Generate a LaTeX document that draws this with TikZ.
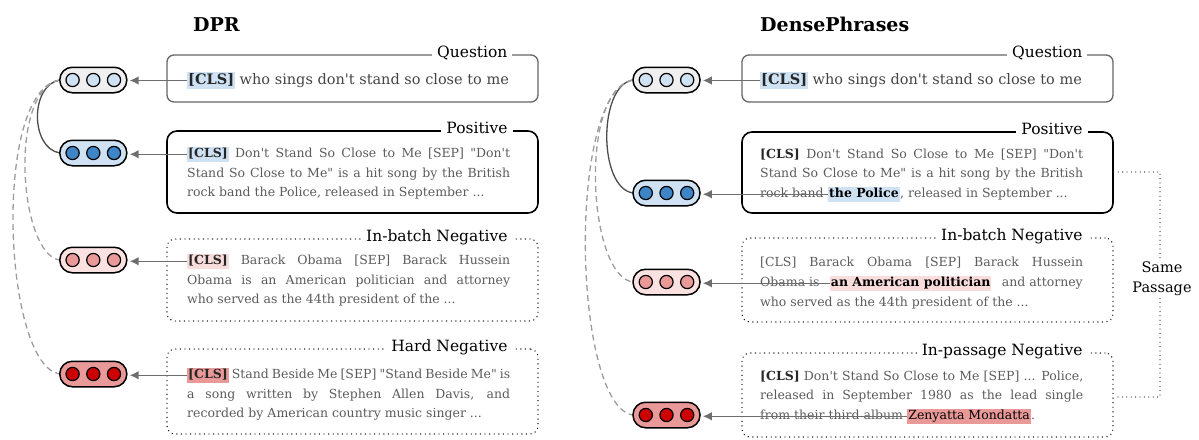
\documentclass[tikz,border=0pt]{standalone}
\usepackage{fontspec}
\setmainfont{DejaVu Serif}[Ligatures=TeXOff]
\usetikzlibrary{positioning,calc,arrows.meta}

\definecolor{qgray}{HTML}{EFEFEF}
\definecolor{lblue}{HTML}{CFE2F3}
\definecolor{dblue}{HTML}{3D85C6}
\definecolor{lpink}{HTML}{FCE1E1}
\definecolor{hpink}{HTML}{F9DCDC}
\definecolor{mred}{HTML}{EA9999}
\definecolor{dred}{HTML}{CC0000}
\definecolor{txtgray}{HTML}{5B5B5B}
\definecolor{qtxt}{HTML}{444444}
\definecolor{arrgray}{HTML}{6E6E6E}
\definecolor{dashgray}{HTML}{9C9C9C}

\newlength{\linew}
\setlength{\linew}{323pt}
\setlength{\fboxsep}{1pt}
\newcommand{\hstrut}{\rule[-3pt]{0pt}{12pt}}
\newcommand{\hlbox}[2]{\colorbox{#1}{\hstrut #2}}
\newcommand{\cls}[1]{\hlbox{#1}{\bfseries\color{black!85}[CLS]}}
\newcommand{\jline}[1]{\makebox[\linew][s]{#1}}

% capsule with three dots
\newcommand{\embed}[4]{%
  \node[capsule, fill=#3] (#1) at #2 {};
  \foreach \dx in {-20.7,0,20.7}
    \draw [black, line width=1.2pt, fill=#4] ([xshift=\dx pt]#1.center) circle (6.6pt);
}

\begin{document}
\begin{tikzpicture}[x=1pt,y=1pt,
  capsule/.style={draw=black, line width=1.5pt, rounded corners=12.5pt, minimum width=67pt, minimum height=25.5pt, inner sep=0pt},
  txt/.style={anchor=base west, inner sep=0pt, text=txtgray, font=\fontsize{12.5}{14}\selectfont},
  qtext/.style={anchor=base west, inner sep=0pt, text=qtxt, font=\fontsize{14.5}{16}\selectfont},
  lbl/.style={anchor=base east, fill=white, inner xsep=5pt, inner ysep=1pt, font=\fontsize{15.5}{18}\selectfont},
  title/.style={anchor=base west, inner sep=0pt, font=\fontsize{19}{22}\selectfont\bfseries},
  qframe/.style={draw=black!60, line width=1.3pt, rounded corners=7pt, inner sep=0pt},
  pframe/.style={draw=black, line width=1.6pt, rounded corners=10pt, inner sep=0pt},
  nframe/.style={draw=black, line width=1.4pt, line cap=round, dash pattern=on 0pt off 4.6pt, rounded corners=8pt, inner sep=0pt},
  arr/.style={draw=arrgray, line width=1.5pt, -{Latex[length=9pt,width=8.5pt]}, shorten >=2pt},
  link/.style={draw=black!70, line width=1.3pt},
  neg/.style={draw=dashgray, line width=1.3pt, dash pattern=on 6pt off 4pt},
  dots/.style={draw=black!80, line width=1.3pt, line cap=round, dash pattern=on 0pt off 4.4pt}]
\useasboundingbox (0,0) rectangle (1199,-439);

% titles
\node[title] (dprT) at (193,-31) {DPR};
\node[title] (dpT) at (760,-31) {DensePhrases};

% DPR frames
\node[qframe, minimum width=371pt, minimum height=47pt] (dprQ) at (352.5,-78.5) {};
\node[pframe, minimum width=371pt, minimum height=82pt] (dprP) at (352.5,-172) {};
\node[nframe, minimum width=371pt, minimum height=82pt] (dprN) at (352.5,-280) {};
\node[nframe, minimum width=371pt, minimum height=85pt] (dprH) at (352.5,-391.5) {};
\node[lbl] at ([xshift=-26pt,yshift=-3.5pt]dprQ.north east) {Question};
\node[lbl] at ([xshift=-26pt,yshift=-3.5pt]dprP.north east) {Positive};
\node[lbl] at ([xshift=-26pt,yshift=-3.5pt]dprN.north east) {In-batch Negative};
\node[lbl] at ([xshift=-26pt,yshift=-3.5pt]dprH.north east) {Hard Negative};

% DensePhrases frames
\node[qframe, minimum width=371pt, minimum height=47pt] (dpQ) at (927.5,-78.5) {};
\node[pframe, minimum width=371pt, minimum height=81pt] (dpP) at (927.5,-172.5) {};
\node[nframe, minimum width=371pt, minimum height=84pt] (dpN) at (927.5,-280) {};
\node[nframe, minimum width=371pt, minimum height=84pt] (dpS) at (927.5,-395) {};
\node[lbl] at ([xshift=-26pt,yshift=-3.5pt]dpQ.north east) {Question};
\node[lbl] at ([xshift=-26pt,yshift=-3.5pt]dpP.north east) {Positive};
\node[lbl] at ([xshift=-26pt,yshift=-3.5pt]dpN.north east) {In-batch Negative};
\node[lbl] at ([xshift=-26pt,yshift=-3.5pt]dpS.north east) {In-passage Negative};

% DPR texts
\node[qtext] (dprQt) at (187,-84.5) {\cls{lblue} who sings don't stand so close to me};
\node[txt] (dprP1) at (187,-157.5) {\jline{\cls{lblue} Don't Stand So Close to Me [SEP] "Don't}};
\node[txt] (dprP2) at (187,-177.1) {\jline{Stand So Close to Me" is a hit song by the British}};
\node[txt] (dprP3) at (187,-196.7) {rock band the Police, released in September ...};
\node[txt] (dprN1) at (187,-264.5) {\jline{\cls{hpink} Barack Obama [SEP] Barack Hussein}};
\node[txt] (dprN2) at (187,-284.1) {\jline{Obama is an American politician and attorney}};
\node[txt] (dprN3) at (187,-303.7) {who served as the 44th president of the ...};
\node[txt] (dprH1) at (187,-378.5) {\jline{\cls{mred} Stand Beside Me [SEP] "Stand Beside Me" is}};
\node[txt] (dprH2) at (187,-398.1) {\jline{a song written by Stephen Allen Davis, and}};
\node[txt] (dprH3) at (187,-417.7) {recorded by American country music singer ...};

% DensePhrases texts
\node[qtext] (dpQt) at (760,-84.5) {\cls{lblue} who sings don't stand so close to me};
\node[txt] (dpP1) at (760,-158.3) {\jline{{\bfseries\color{black!85}[CLS]} Don't Stand So Close to Me [SEP] "Don't}};
\node[txt] (dpP2) at (760,-177.9) {\jline{Stand So Close to Me" is a hit song by the British}};
\node[txt] (dpP3a) at (760,-197.5) {rock band};
\node[txt] (dpPhl) at ([xshift=4pt]dpP3a.base east) {\hlbox{lblue}{\bfseries\color{black}the Police}};
\node[txt] (dpP3b) at (dpPhl.base east) {, released in September ...};
\node[txt] (dpN1) at (760,-266.9) {\jline{[CLS] Barack Obama [SEP] Barack Hussein}};
\node[txt] (dpN2a) at (760,-286.5) {Obama is};
\node[txt, anchor=base east] (dpN2c) at (1083,-286.5) {and attorney};
\node[txt, anchor=base] (dpNhl) at ($(dpN2a.base east)!0.5!(dpN2c.base west)$) {\hlbox{hpink}{\bfseries\color{black}an American politician}};
\node[txt] (dpN3) at (760,-306.1) {who served as the 44th president of the ...};
\node[txt] (dpS1) at (760,-380.3) {\jline{{\bfseries\color{black!85}[CLS]} Don't Stand So Close to Me [SEP] ... Police,}};
\node[txt] (dpS2) at (760,-399.9) {\jline{released in September 1980 as the lead single}};
\node[txt] (dpS3a) at (760,-419.5) {from their third album};
\node[txt] (dpShl) at ([xshift=4pt]dpS3a.base east) {\hlbox{mred}{\color{black}Zenyatta Mondatta}};
\node[txt] (dpS3b) at (dpShl.base east) {.};

% same passage bracket
\node[align=center, inner sep=2pt, font=\fontsize{14.5}{20}\selectfont] (same) at (1162,-279) {Same\\Passage};
\coordinate (spTop) at (1160,-172);
\coordinate (spBot) at (1160,-397);
\draw[dots] (spTop -| dpP.east) -- (spTop) -- (same.north -| spTop);
\draw[dots] (same.south -| spBot) -- (spBot) -- (spBot -| dpS.east);

% similarity links
\draw[link] (59.8,-80) .. controls (30,-85) and (30,-148) .. (59.8,-153);
\draw[neg] (59.8,-80) .. controls (8,-90) and (19,-255) .. (59.8,-260);
\draw[neg] (59.8,-80) .. controls (-8,-90) and (3,-366) .. (59.8,-374);
\draw[link] (633,-80) .. controls (598,-85) and (598,-188) .. (633,-193);
\draw[neg] (633,-80) .. controls (578,-90) and (588,-277) .. (633,-282);
\draw[neg] (633,-80) .. controls (566,-92) and (573,-407) .. (633,-415);

% embeddings
\embed{dprQv}{(93.3,-80)}{qgray}{lblue}
\embed{dprPv}{(93.3,-153)}{lblue}{dblue}
\embed{dprNv}{(93.3,-260)}{lpink}{mred}
\embed{dprHv}{(93.3,-374)}{mred}{dred}
\embed{dpQv}{(666.5,-80)}{qgray}{lblue}
\embed{dpPv}{(666.5,-193)}{lblue}{dblue}
\embed{dpNv}{(666.5,-282)}{lpink}{mred}
\embed{dpSv}{(666.5,-415)}{mred}{dred}

% encoder arrows
\draw[arr] (dprQt.west) -- (dprQt.west -| dprQv.east);
\draw[arr] (dprP1.west) -- (dprP1.west -| dprPv.east);
\draw[arr] (dprN1.west) -- (dprN1.west -| dprNv.east);
\draw[arr] (dprH1.west) -- (dprH1.west -| dprHv.east);
\draw[arr] (dpQt.west) -- (dpQt.west -| dpQv.east);
\draw[arr] (dpPhl.west) -- (dpPhl.west -| dpPv.east);
\draw[arr] (dpNhl.west) -- (dpNhl.west -| dpNv.east);
\draw[arr] (dpShl.west) -- (dpShl.west -| dpSv.east);
\end{tikzpicture}
\end{document}
